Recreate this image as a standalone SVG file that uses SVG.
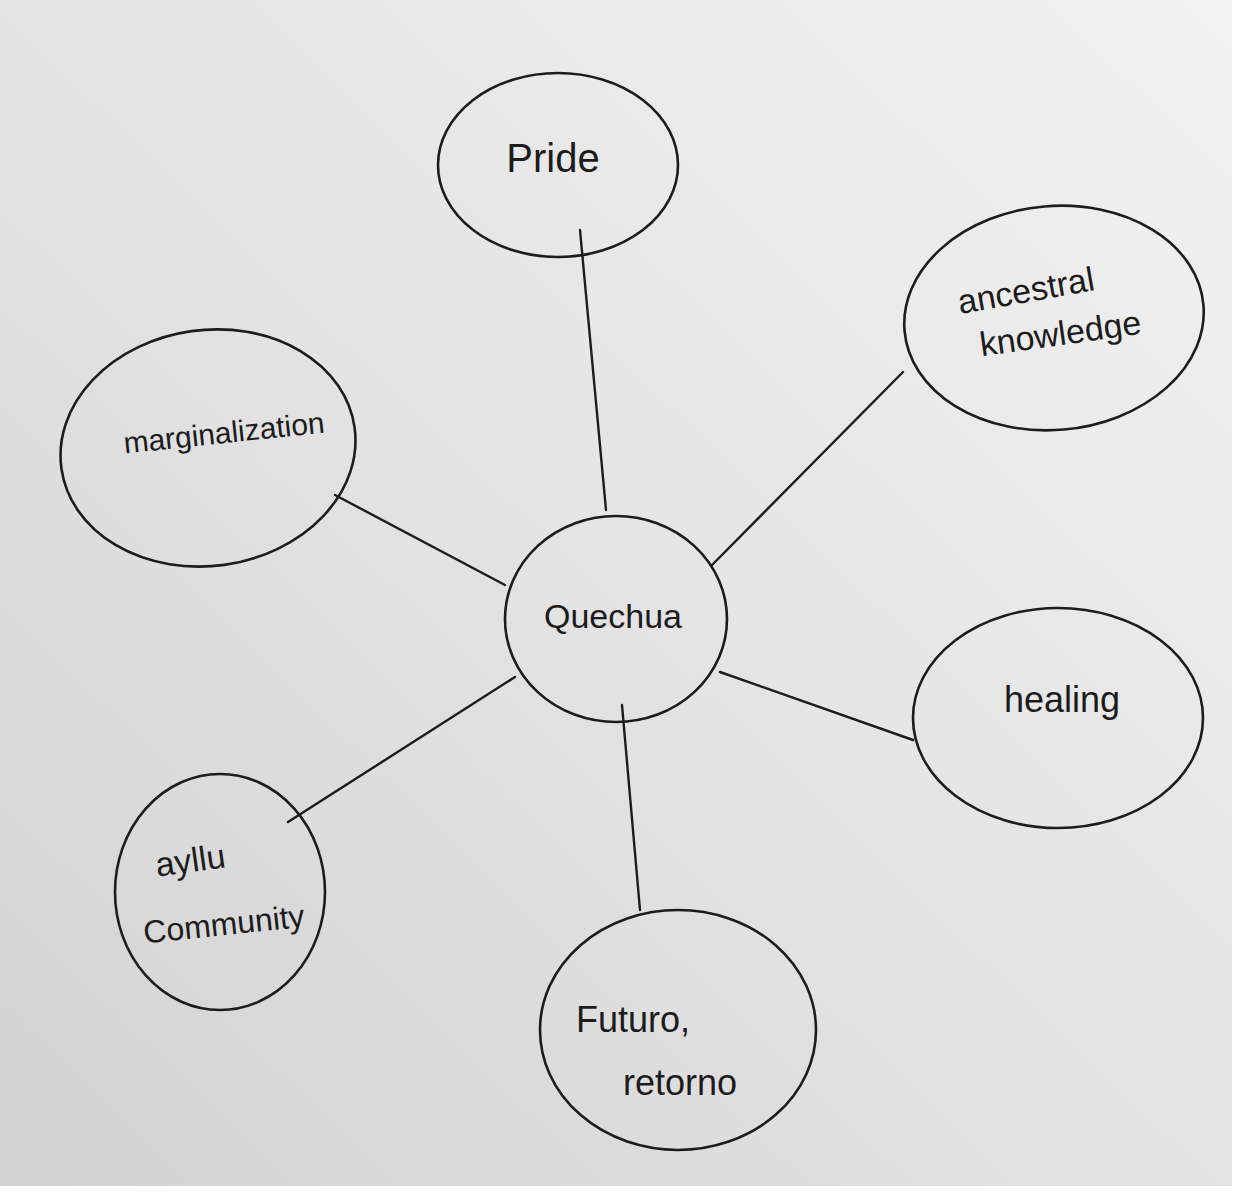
<svg xmlns="http://www.w3.org/2000/svg" width="1239" height="1195" viewBox="0 0 1239 1195">
<defs>
<linearGradient id="paper" x1="1" y1="0" x2="0" y2="1">
<stop offset="0" stop-color="#f2f2f2"/>
<stop offset="0.5" stop-color="#e4e4e4"/>
<stop offset="1" stop-color="#d2d2d2"/>
</linearGradient>
<style>
.node{fill:none;stroke:#1c1c1c;stroke-width:2.6}
.edge{fill:none;stroke:#1c1c1c;stroke-width:2.4;stroke-linecap:round}
.lbl{font-family:"Liberation Sans",Arial,sans-serif;fill:#1c1c1c;text-anchor:middle;font-weight:normal}
</style>
</defs>
<rect x="0" y="0" width="1239" height="1195" fill="#ffffff"/>
<rect x="0" y="0" width="1232" height="1186" fill="url(#paper)"/>
<g id="connectors">
<path class="edge" d="M580 230 L606 510"/>
<path class="edge" d="M903 372 L712 565"/>
<path class="edge" d="M335 495 L505 585"/>
<path class="edge" d="M720 672 L913 740"/>
<path class="edge" d="M288 822 L515 677"/>
<path class="edge" d="M622 705 L640 910"/>
</g>
<g id="node-pride">
<ellipse class="node" cx="558" cy="165" rx="120" ry="92"/>
<text class="lbl" x="553" y="172" font-size="40">Pride</text>
</g>
<g id="node-ancestral">
<ellipse class="node" cx="1054" cy="318" rx="150" ry="112" transform="rotate(-5 1054 318)"/>
<text class="lbl" x="1028" y="302" font-size="34" transform="rotate(-10 1028 302)">ancestral</text>
<text class="lbl" x="1062" y="345" font-size="34" transform="rotate(-8 1062 345)">knowledge</text>
</g>
<g id="node-marginalization">
<ellipse class="node" cx="208" cy="448" rx="148" ry="118" transform="rotate(-8 208 448)"/>
<text class="lbl" x="225" y="443" font-size="30" transform="rotate(-6 225 443)">marginalization</text>
</g>
<g id="node-quechua">
<ellipse class="node" cx="616" cy="619" rx="111" ry="103"/>
<text class="lbl" x="613" y="628" font-size="34">Quechua</text>
</g>
<g id="node-healing">
<ellipse class="node" cx="1058" cy="718" rx="145" ry="110"/>
<text class="lbl" x="1062" y="712" font-size="36">healing</text>
</g>
<g id="node-ayllu">
<ellipse class="node" cx="220" cy="892" rx="105" ry="118"/>
<text class="lbl" x="192" y="872" font-size="34" transform="rotate(-8 192 872)">ayllu</text>
<text class="lbl" x="225" y="935" font-size="32" transform="rotate(-6 225 935)">Community</text>
</g>
<g id="node-futuro">
<ellipse class="node" cx="678" cy="1030" rx="138" ry="120"/>
<text class="lbl" x="633" y="1032" font-size="36">Futuro,</text>
<text class="lbl" x="680" y="1095" font-size="36">retorno</text>
</g>
</svg>
